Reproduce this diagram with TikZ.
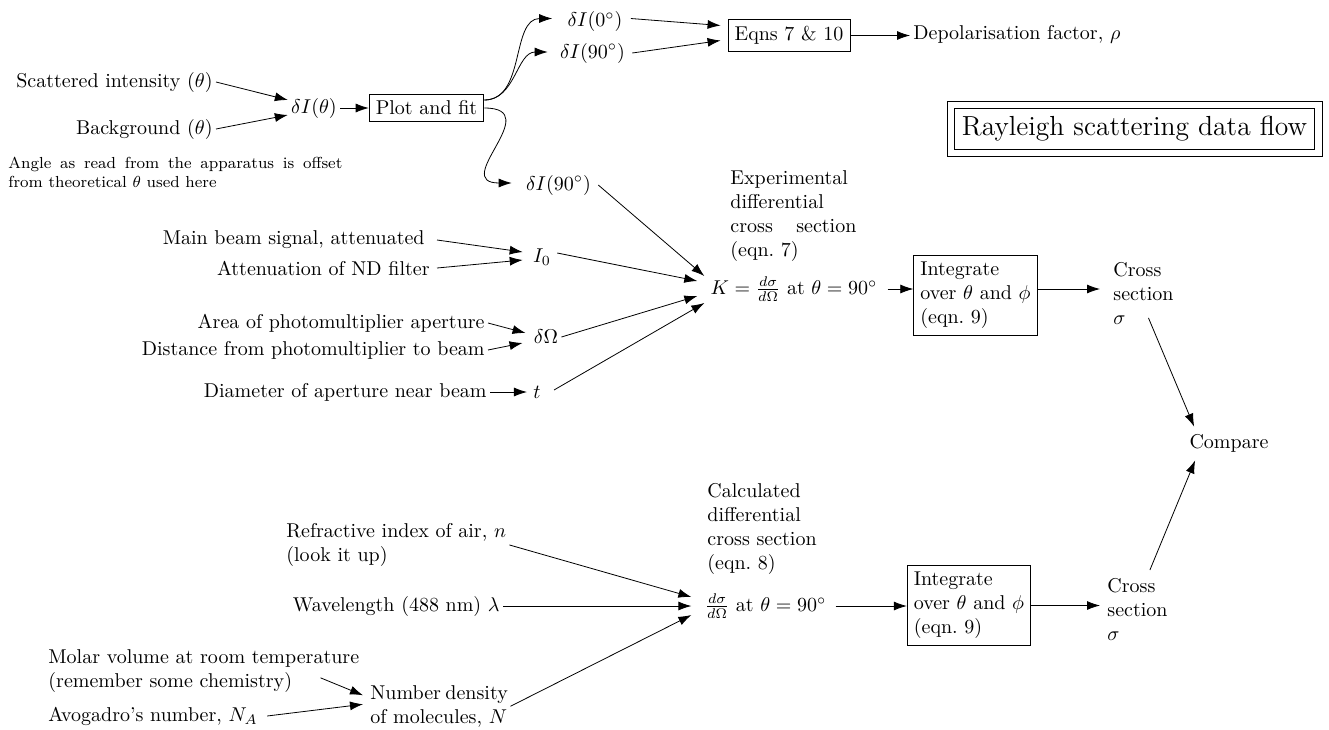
\documentclass[tikz,border=0pt]{standalone}
\usetikzlibrary{arrows.meta}
\hyphenpenalty=10000
\exhyphenpenalty=10000
\newsavebox\ndbox
\tikzset{
  txt/.style={inner sep=1.5pt},
  box/.style={draw, inner sep=3.33pt},
  arr/.style={-{Latex[length=6.5pt,width=4.5pt]}},
}
\begin{document}
\begin{tikzpicture}[x=0.5pt,y=-0.5pt]
\useasboundingbox (0,0) rectangle (1329,729);
% top-left group
\node[txt, anchor=east] (scat) at (216,82) {Scattered intensity $(\theta)$};
\node[txt, anchor=east] (bg) at (216,129) {Background $(\theta)$};
\node[txt, anchor=north west, text width=167pt, align=justify, font=\footnotesize] (note) at (5,154)
  {Angle as read from the apparatus is offset\linebreak from theoretical $\theta$ used here};
\node[txt] (dI) at (314,108) {$\delta I(\theta)$};
\node[box] (plot) at (426.5,108) {Plot and fit};
\node[txt] (dI0) at (595,21.5) {$\delta I(0^\circ)$};
\node[txt] (dI90a) at (592.5,53) {$\delta I(90^\circ)$};
\node[box] (eqns) at (789,35.5) {Eqns 7 \& 10};
\node[txt, anchor=west] (depol) at (910,34) {Depolarisation factor, $\rho$};
\node[draw, inner sep=3.8pt, font=\fontsize{13.8pt}{16pt}\selectfont] (title) at (1134.5,129) {Rayleigh scattering data flow};
\draw ([shift={(-7,-7)}]title.north west) rectangle ([shift={(7,7)}]title.south east);
\node[txt] (dI90b) at (558.5,185) {$\delta I(90^\circ)$};
% experimental
\node[txt, anchor=east] (main) at (428,240) {Main beam signal, attenuated};
\node[txt, anchor=east] (atten) at (433,268) {Attenuation of ND filter};
\node[txt] (I0) at (542,257) {$I_0$};
\node[txt, anchor=east] (area) at (488,323) {Area of photomultiplier aperture};
\node[txt, anchor=east] (dist) at (488,350) {Distance from photomultiplier to beam};
\node[txt] (dOmega) at (546,337) {$\delta\Omega$};
\node[txt, anchor=east] (diam) at (490,392) {Diameter of aperture near beam};
\node[txt] (t) at (537,392) {$t$};
\node[txt, anchor=north west, text width=63pt, align=justify] (explab) at (727,167)
  {Experimental\\differential\\cross section\linebreak (eqn.~7)};
\node[txt] (K) at (794,289) {$K=\frac{d\sigma}{d\Omega}$ at $\theta=90^\circ$};
\node[box, align=left] (int1) at (975.5,295) {Integrate\\over $\theta$ and $\phi$\\(eqn.~9)};
\node[txt, anchor=north west, align=left] (cs1) at (1110,259) {Cross\\section\\$\sigma$};
\node[txt] (compare) at (1229,443) {Compare};
% calculated
\node[txt, anchor=north west, align=left] (refr) at (283,520) {Refractive index of air, $n$\\(look it up)};
\node[txt, anchor=east] (wave) at (503,606) {Wavelength (488 nm) $\lambda$};
\node[txt, anchor=north west, align=left] (molar) at (45,646) {Molar volume at room temperature\\(remember some chemistry)};
\node[txt, anchor=west] (avog) at (45,716) {Avogadro's number, $N_A$};
\node[txt, anchor=north west, align=left] (numden) at (367,682)
  {\global\setbox\ndbox=\hbox{of molecules, $N$}\makebox[\wd\ndbox][s]{Number density}\\\usebox\ndbox};
\node[txt, anchor=north west, align=left] (calclab) at (704,480)
  {Calculated\\differential\\cross section\\(eqn.~8)};
\node[txt] (dsig) at (765.5,606) {$\frac{d\sigma}{d\Omega}$ at $\theta=90^\circ$};
\node[box, align=left] (int2) at (969,605.5) {Integrate\\over $\theta$ and $\phi$\\(eqn.~9)};
\node[txt, anchor=north west, align=left] (cs2) at (1104,575) {Cross\\section\\$\sigma$};
% connectors
\draw[arr] (scat.east) -- ([shift={(0,-8)}]dI.west);
\draw[arr] (bg.east) -- ([shift={(0,7)}]dI.west);
\draw[arr] (dI) -- (plot);
\draw[arr] ([shift={(0,-8)}]plot.east) to[out=0,in=180] ([shift={(-12,-3)}]dI0.west);
\draw[arr] ([shift={(0,-8)}]plot.east) to[out=0,in=180] ([shift={(-9,-1)}]dI90a.west);
\draw[arr] (plot.east) to[out=0,in=180,looseness=2] ([shift={(-11,-2)}]dI90b.west);
\draw[arr] ([shift={(5,-3)}]dI0.east) -- ([shift={(-7,-10)}]eqns.west);
\draw[arr] ([shift={(4,0)}]dI90a.east) -- ([shift={(-7,5)}]eqns.west);
\draw[arr] (eqns.east) -- (eqns.east -| depol.west);
\draw[arr] ([shift={(9,0)}]main.east) -- ([shift={(-7,-5)}]I0.west);
\draw[arr] ([shift={(4,0)}]atten.east) -- ([shift={(-7,3)}]I0.west);
\draw[arr] (area.east) -- ([shift={(-5,-4)}]dOmega.west);
\draw[arr] (dist.east) -- ([shift={(-8,6)}]dOmega.west);
\draw[arr] (diam.east) -- ([shift={(-3,0)}]t.west);
\draw[arr] ([shift={(4,0)}]dI90b.east) -- ([shift={(-3,-13)}]K.west);
\draw[arr] ([shift={(3,-4)}]I0.east) -- ([shift={(-10,-8)}]K.west);
\draw[arr] (dOmega.east) -- ([shift={(-10,7)}]K.west);
\draw[arr] ([shift={(10,-2)}]t.east) -- ([shift={(-3,14)}]K.west);
\draw[arr] ([shift={(7,0)}]K.east) -- (K.east -| int1.west);
\draw[arr] (int1.east |- K.east) -- ([shift={(-10,0)}]cs1.west |- K.east);
\draw[arr] ([shift={(5,-10)}]cs1.south) -- ([shift={(8,-4)}]compare.north west);
\draw[arr] ([shift={(-21,-5)}]cs2.north east) -- ([shift={(9,5)}]compare.south west);
\draw[arr] (int2.east) -- ([shift={(-4,0)}]cs2.west |- int2.east);
\draw[arr] ([shift={(6,0)}]dsig.east) -- (dsig.east -| int2.west);
\draw[arr] (refr.east) -- ([shift={(-10,-9)}]dsig.west);
\draw[arr] (wave.east) -- ([shift={(-10,0)}]dsig.west);
\draw[arr] (numden.east) -- ([shift={(-10,9)}]dsig.west);
\draw[arr] ([shift={(-42,7)}]molar.east) -- ([shift={(-4,-11)}]numden.west);
\draw[arr] ([shift={(6,0)}]avog.east) -- ([shift={(-4,-2)}]numden.west);
\end{tikzpicture}
\end{document}
